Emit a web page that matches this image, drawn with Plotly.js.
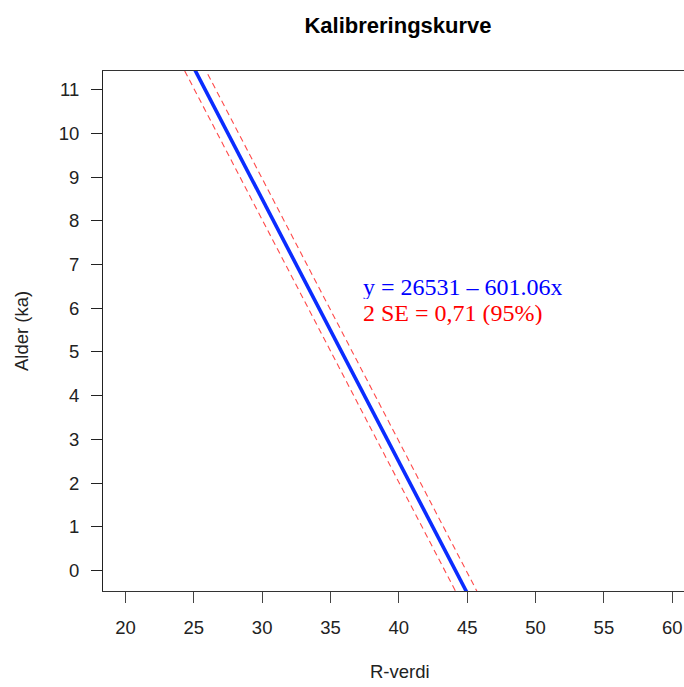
<!DOCTYPE html>
<html>
<head>
<meta charset="utf-8">
<script src="https://cdn.plot.ly/plotly-3.0.1.min.js"></script>
<style>html,body{margin:0;padding:0;background:#fff;}#plot{width:684px;height:687px;}</style>
</head>
<body>
<div id="plot"></div>
<script>
// Calibration line: Alder (years) = intercept + slope * R
const intercept = 26531;
const slope = -601.06;
const ciHalfKa = 0.47;           // half-width of dashed band (ka) as drawn
const rVerdi = [24, 46];         // R-verdi range covered by the drawn line
const xTicks = [20, 25, 30, 35, 40, 45, 50, 55, 60];
const yTicks = [0, 1, 2, 3, 4, 5, 6, 7, 8, 9, 10, 11];
const eqText = "y = 26531 \u2013 601.06x";
const seText = "2 SE = 0,71 (95%)";

const alderKa = rVerdi.map(r => (intercept + slope * r) / 1000);
const upper = alderKa.map(a => a + ciHalfKa);
const lower = alderKa.map(a => a - ciHalfKa);

const dashStyle = {color: '#ff4a4a', width: 1.1, dash: '6px,4px'};
const traces = [
  {x: rVerdi, y: upper, mode: 'lines', line: dashStyle, hoverinfo: 'skip'},
  {x: rVerdi, y: lower, mode: 'lines', line: dashStyle, hoverinfo: 'skip'},
  {x: rVerdi, y: alderKa, mode: 'lines', line: {color: '#0a2cff', width: 3.6}, hoverinfo: 'skip'}
];

const tickFont = {family: 'Liberation Sans, Arial, sans-serif', size: 18.5, color: '#222'};
const layout = {
  width: 684, height: 687,
  margin: {l: 103, r: 0, t: 71, b: 96},
  paper_bgcolor: '#fff', plot_bgcolor: '#fff',
  showlegend: false,
  title: {text: '<b>Kalibreringskurve</b>', x: 398 / 684, xref: 'container', xanchor: 'center',
          y: 1 - 25/687, yref: 'container', yanchor: 'middle',
          font: {family: 'Liberation Sans, Arial, sans-serif', size: 22, color: '#000'}},
  xaxis: {
    range: [18.36, 60.86], tickvals: xTicks, ticktext: xTicks.map(String),
    showgrid: false, zeroline: false, showline: true, mirror: true,
    linecolor: '#333', linewidth: 1, ticks: 'outside', ticklen: 11, tickcolor: '#444', tickwidth: 1,
    tickfont: tickFont, ticklabelstandoff: 9
  },
  yaxis: {
    range: [-0.47, 11.43], tickvals: yTicks, ticktext: yTicks.map(String),
    showgrid: false, zeroline: false, showline: true, mirror: false,
    linecolor: '#222', linewidth: 1, ticks: 'outside', ticklen: 11, tickcolor: '#222', tickwidth: 1,
    tickfont: tickFont, ticklabelstandoff: 8
  },
  annotations: [
    {text: eqText, x: 37.29, y: 6.50, xref: 'x', yref: 'y', xanchor: 'left', yanchor: 'middle',
     height: 25, valign: 'middle', borderpad: 0,
     showarrow: false, font: {family: 'Liberation Serif, Times New Roman, serif', size: 24, color: '#0000ff'}},
    {text: seText, x: 37.29, y: 5.90, xref: 'x', yref: 'y', xanchor: 'left', yanchor: 'middle',
     height: 25, valign: 'middle', borderpad: 0,
     showarrow: false, font: {family: 'Liberation Serif, Times New Roman, serif', size: 24, color: '#ff0000'}},
    {text: 'R-verdi', x: (400 - 103) / 581, y: -(672 - 591.5) / 520.5, xref: 'paper', yref: 'paper',
     xanchor: 'center', yanchor: 'middle', showarrow: false,
     font: {family: 'Liberation Sans, Arial, sans-serif', size: 18.5, color: '#222'}},
    {text: 'Alder (ka)', x: (21 - 103) / 581, y: 0.5, xref: 'paper', yref: 'paper', textangle: -90,
     xanchor: 'center', yanchor: 'middle', showarrow: false,
     font: {family: 'Liberation Sans, Arial, sans-serif', size: 18.5, color: '#222'}}
  ]
};

Plotly.newPlot('plot', traces, layout, {staticPlot: true, displayModeBar: false});
</script>
</body>
</html>
